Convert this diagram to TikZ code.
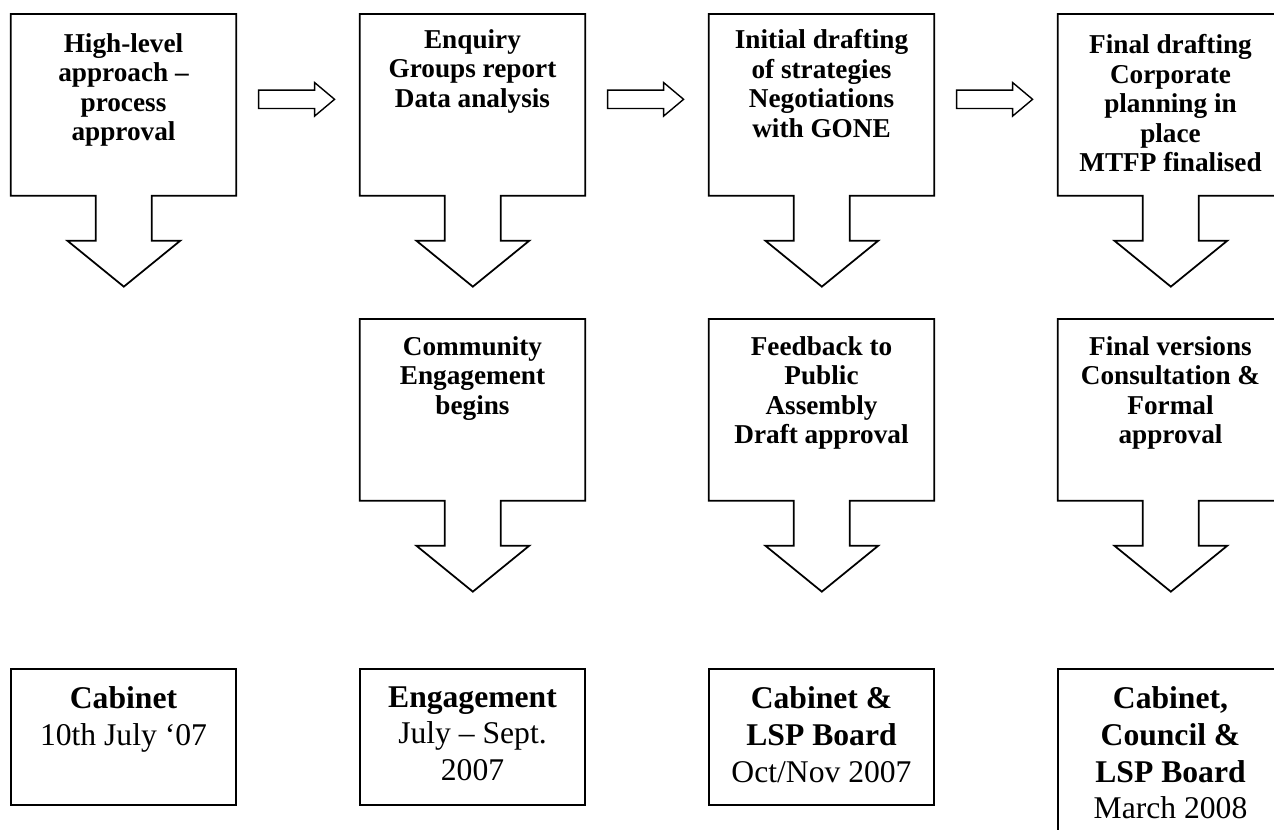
\documentclass[tikz,border=0pt]{standalone}
\usepackage{fontspec}
\setmainfont{Liberation Serif}
\usetikzlibrary{calc,shapes.arrows}
\tikzset{
  outline/.style={draw, line width=1pt},
  stage/.style={minimum width=4.5cm, minimum height=3.62cm, inner sep=0pt, anchor=north},
  stagetext/.style={anchor=north, align=center, inner sep=0pt,
    font=\bfseries\fontsize{15.5}{16.8}\selectfont},
  datebox/.style={draw, line width=1pt, minimum width=4.5cm, inner sep=0pt, anchor=north},
  datetext/.style={anchor=north, align=center, inner sep=0pt,
    font=\fontsize{18}{21}\selectfont},
  blockarrow/.style={single arrow, draw, line width=0.8pt, minimum height=1.52cm, anchor=tip,
    inner xsep=0pt, inner ysep=0.17cm, single arrow head extend=0.15cm, single arrow tip angle=80}
}
% box with an open stem and arrow head below it
\newcommand{\stage}[5]{%
  \node[stage] (#1) at (#2,#3) {};
  \draw[outline] (#1.north west) -- (#1.north east) -- (#1.south east)
    -- ++(-84.5,0) -- ++(0,45) -- ++(28.5,0) -- ++(-56.5,46)
    -- ++(-56.5,-46) -- ++(28.5,0) -- ++(0,-45) -- (#1.south west) -- cycle;
  \node[stagetext] (#1t) at ($(#1.north)+(0,#4)$) {#5};
}
\begin{document}
\begin{tikzpicture}[x=0.02cm, y=-0.02cm]
\useasboundingbox (0,0) rectangle (1274,830);
\clip (0,0) rectangle (1274,830);
% top row
\stage{s1}{123.5}{14}{19}{High-level\\approach –\\process\\approval}
\stage{s2}{472.5}{14}{15}{Enquiry\\Groups report\\Data analysis}
\stage{s3}{821.5}{14}{15}{Initial drafting\\of strategies\\Negotiations\\with GONE}
\stage{s4}{1170.5}{14}{20}{Final drafting\\Corporate\\planning in\\place\\MTFP finalised}
\node[blockarrow] (a12) at ($(s2.west)+(-24,-5.5)$) {};
\node[blockarrow] (a23) at ($(s3.west)+(-24,-5.5)$) {};
\node[blockarrow] (a34) at ($(s4.west)+(-24,-5.5)$) {};
% middle row
\stage{m2}{472.5}{319}{17}{Community\\Engagement\\begins}
\stage{m3}{821.5}{319}{17}{Feedback to\\Public\\Assembly\\Draft approval}
\stage{m4}{1170.5}{319}{17}{Final versions\\Consultation \&\\Formal\\approval}
% dates
\node[datebox, minimum height=2.72cm] (d1) at (123.5,668) {};
\node[datebox, minimum height=2.72cm] (d2) at (472.5,668) {};
\node[datebox, minimum height=2.72cm] (d3) at (821.5,668) {};
\node[datebox, minimum height=3.6cm] (d4) at (1170.5,668) {};
\node[datetext] (d1t) at ($(d1.north)+(0,18)$) {\textbf{Cabinet}\\10th July ‘07};
\node[datetext] (d2t) at ($(d2.north)+(0,18)$) {\textbf{Engagement}\\July – Sept.\\2007};
\node[datetext] (d3t) at ($(d3.north)+(0,18)$) {\textbf{Cabinet \&}\\\textbf{LSP Board}\\Oct/Nov 2007};
\node[datetext] (d4t) at ($(d4.north)+(0,18)$) {\textbf{Cabinet,}\\\textbf{Council \&}\\\textbf{LSP Board}\\March 2008};
\end{tikzpicture}
\end{document}
